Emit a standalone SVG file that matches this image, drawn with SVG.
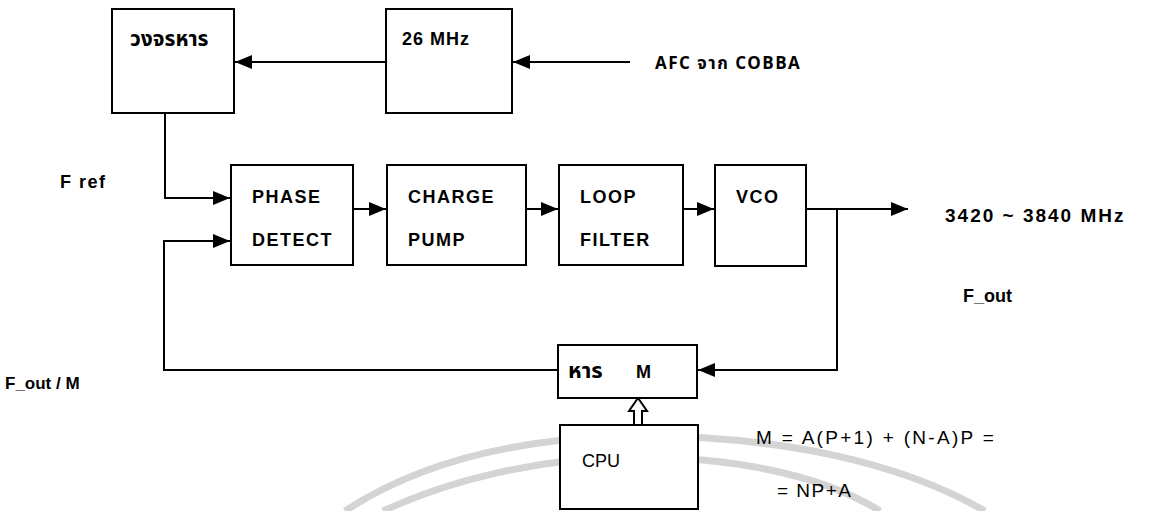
<svg xmlns="http://www.w3.org/2000/svg" width="1150" height="511" viewBox="0 0 1150 511">
<style>
.box{fill:#fff;stroke:#000;stroke-width:2}
.ln{fill:none;stroke:#000;stroke-width:2}
.t{font-family:"Liberation Sans",Arial,sans-serif;font-size:18px;font-weight:bold;fill:#000;letter-spacing:1.5px}
.n{font-family:"Liberation Sans",Arial,sans-serif;font-size:18px;fill:#000}
.th{font-family:"Noto Sans Thai","Liberation Sans","Noto Sans","DejaVu Sans",sans-serif;font-size:15px;font-weight:bold;fill:#000}
.wm{fill:none;stroke:#d4d4d4;stroke-width:7}
</style>
<defs>
<marker id="ah" markerUnits="userSpaceOnUse" markerWidth="18" markerHeight="14" refX="17" refY="7" orient="auto">
<path d="M0,0 L17,7 L0,14 Z" fill="#000"/>
</marker>
</defs>
<rect width="1150" height="511" fill="#fff"/>
<g id="watermark">
<path class="wm" d="M345,511 C420,462 520,437 640,436 C780,436 900,462 985,511"/>
<path class="wm" d="M383,511 C450,480 540,457 640,457 C750,458 830,480 880,511"/>
</g>
<g id="connectors">
<line class="ln" x1="630" y1="62" x2="513" y2="62" marker-end="url(#ah)"/>
<line class="ln" x1="386" y1="62" x2="235" y2="62" marker-end="url(#ah)"/>
<polyline class="ln" points="165,113 165,198 230,198" marker-end="url(#ah)"/>
<line class="ln" x1="353" y1="209" x2="386" y2="209" marker-end="url(#ah)"/>
<line class="ln" x1="526" y1="209" x2="558" y2="209" marker-end="url(#ah)"/>
<line class="ln" x1="683" y1="209" x2="714" y2="209" marker-end="url(#ah)"/>
<line class="ln" x1="806" y1="209" x2="908" y2="209" marker-end="url(#ah)"/>
<polyline class="ln" points="837,209 837,370 698,370" marker-end="url(#ah)"/>
<polyline class="ln" points="558,370 164,370 164,241 230,241" marker-end="url(#ah)"/>
<path d="M634,425 V411 H629 L638,398 L647,411 H642 V425" fill="#fff" stroke="#000" stroke-width="2"/>
</g>
<g id="divider">
<rect class="box" x="112" y="9" width="122" height="104"/>
<text class="th" x="130" y="46" style="font-size:21px">วงจรหาร</text>
</g>
<g id="osc26">
<rect class="box" x="386" y="9" width="126" height="104"/>
<text class="t" x="402" y="45" style="letter-spacing:1px">26 MHz</text>
</g>
<g id="phase">
<rect class="box" x="231" y="165" width="122" height="100"/>
<text class="t" x="252" y="203">PHASE</text>
<text class="t" x="252" y="246">DETECT</text>
</g>
<g id="charge">
<rect class="box" x="387" y="165" width="139" height="100"/>
<text class="t" x="408" y="203">CHARGE</text>
<text class="t" x="408" y="246">PUMP</text>
</g>
<g id="loop">
<rect class="box" x="559" y="165" width="124" height="100"/>
<text class="t" x="580" y="203">LOOP</text>
<text class="t" x="580" y="246">FILTER</text>
</g>
<g id="vco">
<rect class="box" x="715" y="165" width="91" height="101"/>
<text class="t" x="736" y="203">VCO</text>
</g>
<g id="divM">
<rect class="box" x="558" y="345" width="139" height="53"/>
<text class="th" x="568" y="378" style="font-size:22px">หาร<tspan x="636" class="t" style="font-size:18px">M</tspan></text>
</g>
<g id="cpu">
<rect class="box" x="560" y="425" width="138" height="84"/>
<text class="n" x="582" y="467">CPU</text>
</g>
<g id="labels">
<text class="th" x="655" y="69" style="font-size:17px;letter-spacing:1.5px">AFC จาก COBBA</text>
<text class="t" x="60" y="188">F  ref</text>
<text class="t" x="945" y="222" style="font-size:19px;letter-spacing:2px">3420 ~ 3840  MHz</text>
<text class="t" x="963" y="302" style="letter-spacing:0px">F_out</text>
<text class="t" x="5" y="389" style="font-size:17px;letter-spacing:0px">F_out / M</text>
<text class="n" x="756" y="444" style="font-size:19px;letter-spacing:2.3px">M = A(P+1) + (N-A)P =</text>
<text class="n" x="777" y="497" style="font-size:19px;letter-spacing:1.5px">= NP+A</text>
</g>
</svg>
